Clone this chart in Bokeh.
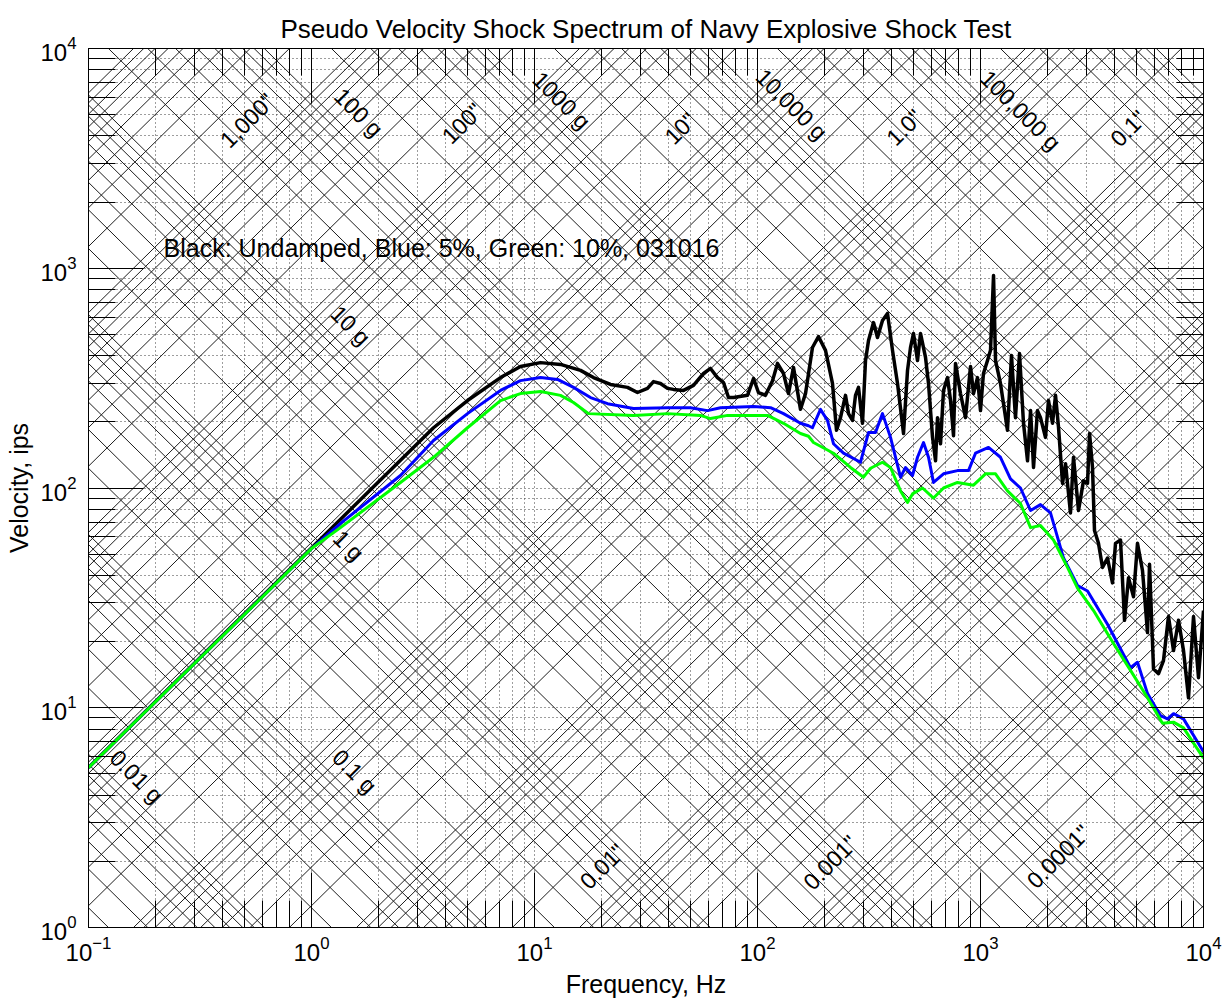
import math

from bokeh.core.properties import value
from bokeh.embed import file_html
from bokeh.models import FixedTicker, LogAxis, Range1d
from bokeh.plotting import figure
from bokeh.resources import INLINE

# ---------------------------------------------------------------------------
# Shock response spectra (frequency Hz, pseudo velocity ips)
# ---------------------------------------------------------------------------
black_spectrum = [  # undamped
    (0.1, 5.34), (1.0, 53.4), (2.506, 133.8), (3.525, 188), (5.007, 250),
    (7.04, 318), (8.65, 357), (10.64, 372), (13.08, 365), (16.08, 343),
    (18.39, 318), (21.92, 296), (26.12, 287), (28.96, 272), (32.11, 284),
    (34.16, 305), (36.73, 299), (39.48, 284), (42.0, 281), (46.58, 278),
    (51.64, 293), (57.27, 332), (61.55, 350), (66.15, 318), (70.39, 302),
    (74.13, 258), (78.06, 258), (90.2, 264), (95.97, 315), (101.0, 272),
    (108.6, 264), (116.8, 308), (122.9, 369), (130.8, 332), (137.7, 269),
    (145.0, 354), (155.9, 228), (164.2, 269), (176.4, 436), (187.7, 489),
    (201.8, 423), (216.9, 299), (226.1, 183), (235.6, 209), (248.1, 264),
    (255.9, 218), (266.7, 203), (275.1, 264), (283.8, 287), (295.7, 197),
    (305.0, 380), (314.7, 469), (331.3, 566), (345.2, 484), (363.5, 578),
    (382.8, 623), (403.1, 423), (424.5, 299), (451.7, 177), (470.7, 343),
    (485.5, 436), (500.7, 505), (521.8, 380), (538.2, 505), (566.8, 393),
    (584.6, 299), (609.4, 170), (628.6, 133), (641.7, 209), (661.9, 159),
    (682.6, 278), (711.3, 318), (733.8, 250), (756.8, 173), (772.6, 369),
    (813.5, 269), (856.6, 209), (902.0, 357), (930.4, 269), (969.4, 318),
    (1000, 225), (1031, 332), (1075, 380), (1109, 423), (1144, 927),
    (1168, 380), (1229, 299), (1321, 183), (1377, 401), (1435, 209),
    (1496, 409), (1559, 197), (1625, 133), (1677, 225), (1729, 124),
    (1801, 225), (1858, 209), (1956, 170), (2018, 250), (2103, 197),
    (2170, 264), (2238, 189), (2333, 105), (2406, 129), (2532, 77),
    (2612, 138), (2751, 79), (2897, 108), (3019, 105), (3083, 177),
    (3179, 124), (3245, 64), (3381, 56), (3525, 43.5), (3711, 48),
    (3907, 37), (4031, 56), (4244, 58), (4424, 25), (4611, 39),
    (4855, 32), (5058, 56), (5328, 42), (5610, 22), (5727, 45),
    (5968, 15), (6285, 14.3), (6616, 16.4), (6966, 26), (7337, 18.2),
    (7726, 25), (8135, 18.2), (8566, 11.1), (9020, 26), (9497, 13.7),
    (10000, 27.7),
]

blue_spectrum = [  # 5% damping
    (0.1, 5.34), (1.0, 53.0), (1.35, 69), (2.506, 114), (3.525, 164.5),
    (5.007, 218), (7.04, 278), (8.65, 308), (10.64, 318), (12.68, 312),
    (14.96, 287), (17.83, 258), (21.26, 242), (27.79, 230), (39.48, 232),
    (50.07, 232), (59.68, 225), (68.24, 232), (95.97, 235), (114.4, 232),
    (130.8, 218), (155.9, 197), (169.3, 192), (176.4, 188), (191.6, 228),
    (206.0, 203), (219.1, 159), (243.0, 144), (289.7, 131), (314.7, 179),
    (338.2, 179), (363.5, 218), (394.9, 170), (437.9, 112), (461.1, 124),
    (495.6, 114), (521.8, 138), (555.2, 161), (584.6, 138), (615.7, 106),
    (682.6, 116), (788.8, 120), (883.5, 120), (949.8, 144), (1086, 153),
    (1229, 138), (1363, 110), (1511, 100), (1677, 79), (1858, 84),
    (2060, 77), (2357, 48), (2723, 36), (3019, 34), (3711, 24),
    (4707, 15.2), (5058, 16.1), (5610, 11.6), (6416, 9.2), (6896, 8.9),
    (7337, 9.4), (8135, 8.9), (10000, 6.3),
]

green_spectrum = [  # 10% damping
    (0.1, 5.34), (1.0, 53.0), (1.349, 66), (2.506, 106), (3.525, 138),
    (5.007, 188), (7.04, 250), (8.65, 269), (10.64, 275), (13.08, 264),
    (14.96, 245), (17.47, 218), (27.79, 214), (39.48, 218), (55.52, 214),
    (61.55, 207), (73.37, 214), (110.9, 214), (130.8, 197), (155.9, 177),
    (169.3, 172), (178.3, 161), (219.1, 144), (261.2, 124), (298.8, 112),
    (321.2, 123), (363.5, 131), (394.9, 124), (437.9, 97), (470.7, 86),
    (495.6, 94), (549.5, 100), (615.7, 90), (682.6, 100), (788.8, 106),
    (930.4, 103), (1053, 116), (1168, 116), (1321, 97), (1511, 85),
    (1677, 66), (1858, 67.5), (2125, 58), (2455, 43.5), (2723, 35),
    (3212, 27.7), (3948, 19.6), (4707, 14.8), (5610, 11.1), (6548, 8.5),
    (7337, 8.6), (8135, 8.1), (10000, 5.9),
]

# axis decades
freq_exponents = [-1, 0, 1, 2, 3, 4]
vel_exponents = [0, 1, 2, 3, 4]

# tripartite grid: constant acceleration (g) and constant displacement (in)
accel_decades = list(range(-3, 7))
disp_decades = list(range(-6, 5))
multipliers = [1, 2, 3, 4, 5, 6, 7, 8, 9]

accel_label_text = ["100 g", "1000 g", "10,000 g", "100,000 g",
                    "10 g", "1 g", "0.1 g", "0.01 g"]
disp_label_text = ['1,000"', '100"', '10"', '1.0"', '0.1"',
                   '0.01"', '0.001"', '0.0001"']
legend_text = "Black: Undamped, Blue: 5%, Green: 10%, 031016"
title_text = "Pseudo Velocity Shock Spectrum of Navy Explosive Shock Test"
x_label = "Frequency, Hz"
y_label = "Velocity, ips"

# label anchor points (Hz, ips)
accel_label_at = [(1.625, 5113), (13.22, 5800), (142.1, 5564), (1511, 5221),
                  (1.496, 549), (1.466, 54.7), (1.559, 5.13), (0.1641, 4.87)]
disp_label_at = [(0.516, 4702), (4.75, 4557), (45.2, 4325), (456, 4371),
                 (4611, 4325), (20.2, 1.895), (212.5, 1.976), (2238, 2.104)]
legend_at = (0.217, 1230)

G_IPS2 = 386.1  # in/s^2 per g
FONT = "Liberation Sans"

f_min, f_max = 10.0 ** freq_exponents[0], 10.0 ** freq_exponents[-1]
v_min, v_max = 10.0 ** vel_exponents[0], 10.0 ** vel_exponents[-1]

p = figure(
    width=1223, height=1003,
    x_axis_type="log", y_axis_type="log",
    x_range=Range1d(f_min, f_max), y_range=Range1d(v_min, v_max),
    output_backend="svg", toolbar_location=None,
    min_border_left=88, min_border_right=20,
    min_border_top=48, min_border_bottom=76,
    background_fill_color="white", border_fill_color="white",
    title=title_text,
)
p.outline_line_color = "black"
p.outline_line_width = 1
p.title.align = "center"
p.title.text_font = FONT
p.title.text_font_size = "26px"
p.title.text_font_style = "normal"
p.title.text_color = "black"
p.title.standoff = 10


def log_ticker(exponents):
    majors = [10.0 ** e for e in exponents]
    minors = [m * 10.0 ** e for e in exponents[:-1] for m in range(2, 10)]
    return FixedTicker(ticks=majors, minor_ticks=minors)


x_ticker = log_ticker(freq_exponents)
y_ticker = log_ticker(vel_exponents)


def style_axis(ax, ticker, labelled):
    ax.ticker = ticker
    ax.major_tick_in = 55
    ax.major_tick_out = 0
    ax.minor_tick_in = 27
    ax.minor_tick_out = 0
    ax.major_tick_line_color = "black"
    ax.minor_tick_line_color = "black"
    ax.axis_line_color = "black"
    if labelled:
        ax.major_label_text_font = FONT
        ax.major_label_text_font_size = "24px"
        ax.major_label_text_color = "black"
        ax.axis_label_text_font = FONT
        ax.axis_label_text_font_size = "25px"
        ax.axis_label_text_font_style = "normal"
        ax.axis_label_text_color = "black"
    else:
        ax.major_label_text_font_size = "2px"
        ax.major_label_text_alpha = 0
        ax.major_label_standoff = 0


bottom_axis = p.xaxis[0]
left_axis = p.yaxis[0]
style_axis(bottom_axis, x_ticker, True)
style_axis(left_axis, y_ticker, True)
bottom_axis.axis_label = x_label
bottom_axis.major_label_standoff = 8
bottom_axis.axis_label_standoff = 6
left_axis.axis_label = y_label
left_axis.major_label_standoff = 12
left_axis.axis_label_standoff = 4

top_axis = LogAxis()
right_axis = LogAxis()
style_axis(top_axis, x_ticker, False)
style_axis(right_axis, y_ticker, False)
p.add_layout(top_axis, "above")
p.add_layout(right_axis, "right")

# dotted rectangular grid at every decade and sub-decade
for grid, ticker in ((p.xgrid[0], x_ticker), (p.ygrid[0], y_ticker)):
    grid.ticker = ticker
    grid.grid_line_color = "#3a3a3a"
    grid.grid_line_dash = "1 3"
    grid.grid_line_width = 1
    grid.minor_grid_line_color = "#3a3a3a"
    grid.minor_grid_line_dash = "1 3"
    grid.minor_grid_line_width = 1

# diagonal lines of constant acceleration and displacement
f_ends = [f_min, f_max]
diag_xs, diag_ys = [], []
for k in accel_decades:
    for m in multipliers:
        a = m * 10.0 ** k
        diag_xs.append(f_ends)
        diag_ys.append([a * G_IPS2 / (2 * math.pi * f) for f in f_ends])
for k in disp_decades:
    for m in multipliers:
        d = m * 10.0 ** k
        diag_xs.append(f_ends)
        diag_ys.append([2 * math.pi * f * d for f in f_ends])
p.multi_line(diag_xs, diag_ys, line_color="#1e1e1e", line_width=1)

# rotated labels on the tripartite grid
p.text(x=[a[0] for a in accel_label_at], y=[a[1] for a in accel_label_at],
       text=accel_label_text, angle=-45, angle_units="deg",
       text_align="center", text_baseline="middle",
       text_font=value(FONT), text_font_size="23px", text_color="black")
p.text(x=[a[0] for a in disp_label_at], y=[a[1] for a in disp_label_at],
       text=disp_label_text, angle=45, angle_units="deg",
       text_align="center", text_baseline="middle",
       text_font=value(FONT), text_font_size="23px", text_color="black")
p.text(x=[legend_at[0]], y=[legend_at[1]], text=[legend_text],
       text_align="left", text_baseline="alphabetic",
       text_font=value(FONT), text_font_size="25px", text_color="black")

# spectra
for series, color, width in ((black_spectrum, "black", 3.5),
                             (blue_spectrum, "#0000ff", 3),
                             (green_spectrum, "#00ff00", 3)):
    p.line([s[0] for s in series], [s[1] for s in series],
           line_color=color, line_width=width, line_join="round")

open("out.html", "w").write(file_html(p, INLINE))
